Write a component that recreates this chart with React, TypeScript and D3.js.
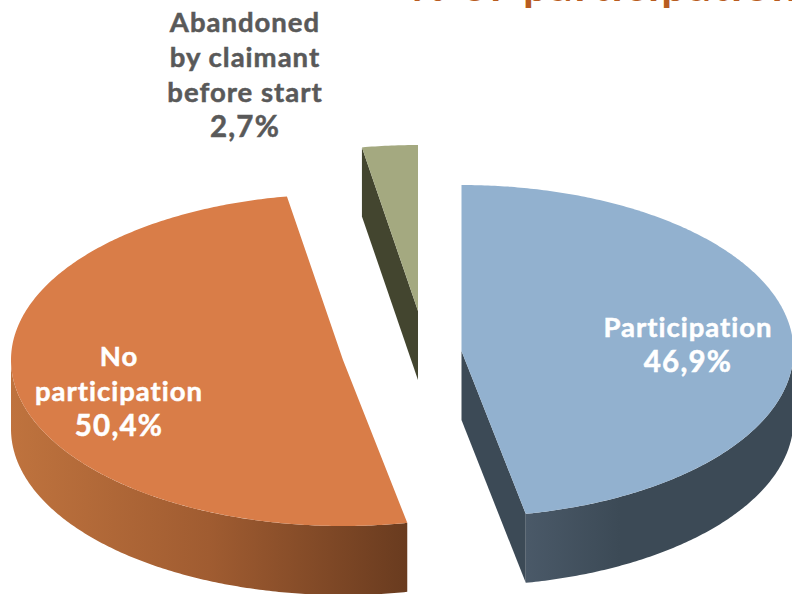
import React from "react";
import * as d3 from "d3";

const categories = ["Participation", "No participation", "Abandoned by claimant before start"];
const values = [46.9, 50.4, 2.7];
const valueLabels = ["46,9%", "50,4%", "2,7%"];
const topColors = ["#92b1cf", "#d97d48", "#a4a980"];
const sideColors = ["#3c4a56", "#693b1f", "#43452f"];
const titleText = "% of participation";

const W = 792, H = 594;
const RX = 332, RY = 166, DEPTH = 69;
const centers = [
  { x: 461.5, y: 351 },
  { x: 343, y: 360 },
  { x: 418, y: 311 },
];

const pieGen = d3.pie<number>().sort(null).startAngle(0).endAngle(2 * Math.PI);
const arcs = pieGen(values);

function pt(c: { x: number; y: number }, a: number, dy = 0): [number, number] {
  return [c.x + RX * Math.sin(a), c.y - RY * Math.cos(a) + dy];
}
const lineGen = d3.line<[number, number]>();

function sample(a0: number, a1: number): number[] {
  const n = Math.max(2, Math.ceil(Math.abs(a1 - a0) / 0.01));
  const s = d3.scaleLinear().domain([0, n]).range([a0, a1]);
  return d3.range(n + 1).map((i) => s(i));
}

function topPath(i: number): string {
  const c = centers[i];
  const pts: [number, number][] = [[c.x, c.y], ...sample(arcs[i].startAngle, arcs[i].endAngle).map((a) => pt(c, a))];
  return lineGen(pts) + "Z";
}
function outerWall(i: number, a0: number, a1: number): string {
  const c = centers[i];
  const as = sample(a0, a1);
  const pts = [...as.map((a) => pt(c, a)), ...as.slice().reverse().map((a) => pt(c, a, DEPTH))];
  return lineGen(pts) + "Z";
}
function radialWall(i: number, a: number): string {
  const c = centers[i];
  const pts: [number, number][] = [[c.x, c.y], pt(c, a), pt(c, a, DEPTH), [c.x, c.y + DEPTH]];
  return lineGen(pts) + "Z";
}

const font = "'Lato', 'Noto Sans', sans-serif";

function Label({ x, y, lines, fill }: { x: number; y: number; lines: string[]; fill: string }) {
  return (
    <text textAnchor="middle" fontFamily={font} fontWeight={700} fill={fill} stroke={fill} strokeWidth={0.5}>
      {lines.map((l, i) => {
        const isValue = i === lines.length - 1;
        return (
          <tspan key={i} x={x} y={y + i * 35} fontSize={isValue ? 29.5 : 27.5} letterSpacing={isValue ? 1.2 : 1}>
            {l}
          </tspan>
        );
      })}
    </text>
  );
}

export default function App() {
  const words = titleText.split(" ");
  return (
    <svg width={W} height={H} viewBox={`0 0 ${W} ${H}`} style={{ position: "absolute", left: 0, top: 0, background: "#fff" }}>
      <defs>
        <linearGradient id="orangeWall" gradientUnits="userSpaceOnUse" x1={10} x2={408} y1={0} y2={0}>
          <stop offset="0" stopColor="#bf733e" />
          <stop offset="0.5" stopColor="#a05c31" />
          <stop offset="1" stopColor={sideColors[1]} />
        </linearGradient>
        <linearGradient id="blueWall" gradientUnits="userSpaceOnUse" x1={526} x2={620} y1={0} y2={0}>
          <stop offset="0" stopColor="#4a5968" />
          <stop offset="1" stopColor={sideColors[0]} />
        </linearGradient>
      </defs>

      <text x={523} y={1} fontFamily={font} fontWeight={700} fontSize={44} letterSpacing={2.1} fill="#b85c20">{words[2]}</text>
      <text x={411} y={1} fontFamily={font} fontWeight={700} fontSize={44} letterSpacing={2.1} fill="#b85c20">{words.slice(0, 2).join(" ")}</text>

      <path d={radialWall(2, arcs[2].startAngle)} fill={sideColors[2]} />
      <path d={topPath(2)} fill={topColors[2]} />

      <path d={radialWall(0, arcs[0].endAngle)} fill={sideColors[0]} />
      <path d={outerWall(0, Math.PI / 2, arcs[0].endAngle)} fill="url(#blueWall)" />
      <path d={topPath(0)} fill={topColors[0]} />

      <path d={outerWall(1, arcs[1].startAngle, (3 * Math.PI) / 2)} fill="url(#orangeWall)" />
      <path d={topPath(1)} fill={topColors[1]} />

      <Label x={688} y={337} lines={["Participation", valueLabels[0]]} fill="#fff" />
      <Label x={119} y={366} lines={["No", "participation", valueLabels[1]]} fill="#fff" />
      <Label x={245} y={32} lines={["Abandoned", "by claimant", "before start", valueLabels[2]]} fill="#595959" />
    </svg>
  );
}
